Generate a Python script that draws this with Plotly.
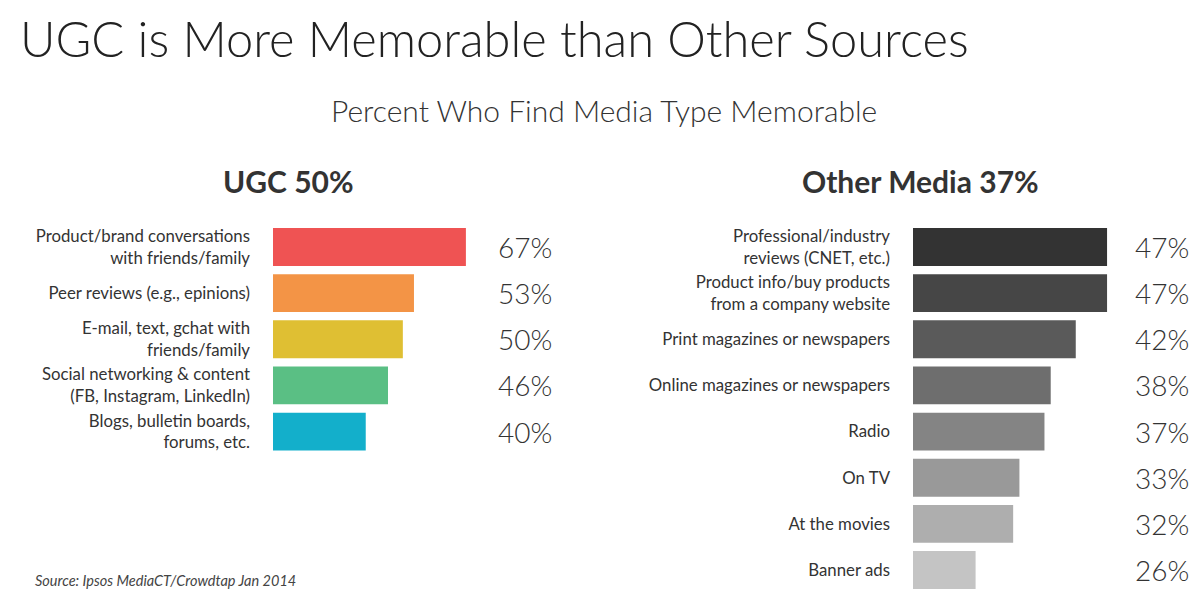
import plotly.graph_objects as go

# UGC sources
ugc_labels = [
    "Product/brand conversations<br>with friends/family",
    "Peer reviews (e.g., epinions)",
    "E-mail, text, gchat with<br>friends/family",
    "Social networking & content<br>(FB, Instagram, LinkedIn)",
    "Blogs, bulletin boards,<br>forums, etc.",
]
ugc_values = [67, 53, 50, 46, 40]
ugc_colors = ["#EF5353", "#F39446", "#DFBF33", "#5ABF84", "#13AFCB"]

# other media
other_labels = [
    "Professional/industry<br>reviews (CNET, etc.)",
    "Product info/buy products<br>from a company website",
    "Print magazines or newspapers",
    "Online magazines or newspapers",
    "Radio",
    "On TV",
    "At the movies",
    "Banner ads",
]
other_values = [47, 47, 42, 38, 37, 33, 32, 26]
other_colors = ["#333333", "#464646", "#5A5A5A", "#6E6E6E", "#848484",
                "#999999", "#AEAEAE", "#C4C4C4"]

FONT = "Lato"
TXT = "#333333"
OFF = 8  # page body margin
W, H = 1200 - OFF, 611 - OFF


def px(x):
    return (x - OFF) / W


def py(y):
    return 1 - (y - OFF) / H


fig = go.Figure()
fig.add_trace(go.Bar(x=ugc_values, y=ugc_labels, orientation="h",
                     marker=dict(color=ugc_colors, line=dict(width=0)),
                     xaxis="x", yaxis="y", hoverinfo="x+y"))
fig.add_trace(go.Bar(x=other_values, y=other_labels, orientation="h",
                     marker=dict(color=other_colors, line=dict(width=0)),
                     xaxis="x2", yaxis="y2", hoverinfo="x+y"))

y_dom = [py(593.1), py(223.9)]
ax_common = dict(showgrid=False, zeroline=False, showline=False,
                 showticklabels=False, ticks="", fixedrange=True)
ycommon = dict(showgrid=False, zeroline=False, showline=False, ticks="",
               range=[7.5, -0.5], domain=y_dom, ticklabelstandoff=22,
               tickfont=dict(family=FONT, size=16.8, color=TXT), fixedrange=True)

fig.update_layout(
    width=W, height=H,
    margin=dict(l=0, r=0, t=0, b=0),
    paper_bgcolor="white", plot_bgcolor="white",
    showlegend=False, bargap=0.18,
    font=dict(family=FONT, color=TXT),
    xaxis=dict(domain=[px(273), px(480)], range=[15, 70.8], anchor="y", **ax_common),
    yaxis=dict(anchor="x", categoryorder="array", categoryarray=ugc_labels, **ycommon),
    xaxis2=dict(domain=[px(913), px(1110)], range=[16, 47.47], anchor="y2", **ax_common),
    yaxis2=dict(anchor="x2", categoryorder="array", categoryarray=other_labels, **ycommon),
)

ann = []
for lab, v in zip(ugc_labels, ugc_values):
    ann.append(dict(text=f"{v}%", x=px(496), xref="paper", y=lab, yref="y",
                    xanchor="left", yanchor="middle", showarrow=False,
                    font=dict(family=FONT, size=28, color=TXT, weight=300)))
for lab, v in zip(other_labels, other_values):
    ann.append(dict(text=f"{v}%", x=px(1133), xref="paper", y=lab, yref="y2",
                    xanchor="left", yanchor="middle", showarrow=False,
                    font=dict(family=FONT, size=28, color=TXT, weight=300)))

# titles and headers
ann.append(dict(text="UGC is More Memorable than Other Sources", x=px(18), y=py(38),
                xref="paper", yref="paper", xanchor="left", yanchor="middle",
                showarrow=False, font=dict(family=FONT, size=48.8, color="#222222", weight=300)))
ann.append(dict(text="Percent Who Find Media Type Memorable", x=px(604), y=py(110),
                xref="paper", yref="paper", xanchor="center", yanchor="middle",
                showarrow=False, font=dict(family=FONT, size=30, color=TXT, weight=300)))
ann.append(dict(text="<b>UGC 50%</b>", x=px(288), y=py(181),
                xref="paper", yref="paper", xanchor="center", yanchor="middle",
                showarrow=False, font=dict(family=FONT, size=30, color=TXT)))
ann.append(dict(text="<b>Other Media 37%</b>", x=px(920), y=py(181),
                xref="paper", yref="paper", xanchor="center", yanchor="middle",
                showarrow=False, font=dict(family=FONT, size=30, color=TXT)))
ann.append(dict(text="<i>Source: Ipsos MediaCT/Crowdtap Jan 2014</i>", x=px(33), y=py(580),
                xref="paper", yref="paper", xanchor="left", yanchor="middle",
                showarrow=False, font=dict(family=FONT, size=14.5, color="#444444")))

fig.update_layout(annotations=ann)
fig.write_html("out.html")
